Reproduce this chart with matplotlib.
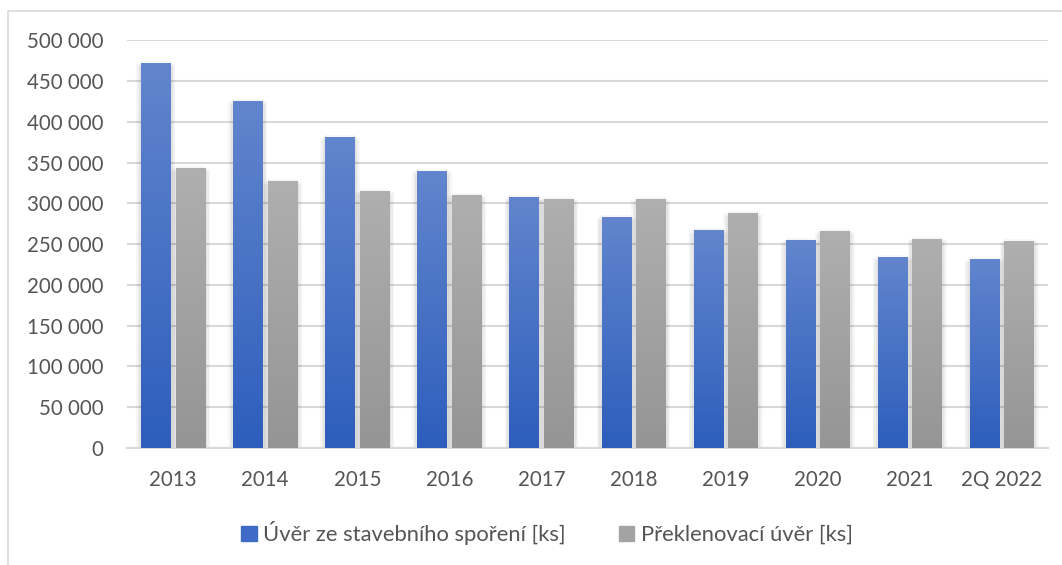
import numpy as np
import matplotlib
matplotlib.use("Agg")
import matplotlib.pyplot as plt
import matplotlib.patheffects as pe
from matplotlib.colors import LinearSegmentedColormap
from matplotlib.patches import Rectangle
from matplotlib.ticker import FuncFormatter

# Počty úvěrů podle let
roky = ["2013", "2014", "2015", "2016", "2017", "2018", "2019", "2020", "2021", "2Q 2022"]
uver_ss = [472400, 425800, 381600, 340000, 308000, 283400, 267500, 255200, 234400, 231900]
uver_prekl = [343600, 327600, 315300, 310400, 305500, 305500, 288300, 266300, 256400, 254000]

nazvy_rad = ["Úvěr ze stavebního spoření [ks]", "Překlenovací úvěr [ks]"]
y_ticks = [0, 50000, 100000, 150000, 200000, 250000, 300000, 350000, 400000, 450000, 500000]


def prechod_sloupcu(ax, bars, barva_nahore, barva_dole):
    # vyplní každý sloupec svislým přechodem barvy, kolem měkký stín
    cmap = LinearSegmentedColormap.from_list("prechod", [barva_dole, barva_nahore])
    grad = np.linspace(0, 1, 256).reshape(-1, 1)
    posuny = [(-1.5, 0), (1.5, 0), (0, 1.5), (0, -1.5), (2.5, -2), (-2.5, -2), (3.5, -1), (-3.5, -1)]
    stin = [pe.SimplePatchShadow(offset=o, shadow_rgbFace="k", alpha=0.035) for o in posuny]
    for b in bars:
        b.set_path_effects(stin + [pe.Normal()])
        x0, w, h = b.get_x(), b.get_width(), b.get_height()
        img = ax.imshow(grad, extent=[x0, x0 + w, 0, h], origin="lower",
                        aspect="auto", cmap=cmap, zorder=3)
        img.set_clip_path(b)


def main():
    plt.rcParams["font.family"] = ["Lato", "DejaVu Sans"]
    fig = plt.figure(figsize=(10.62, 5.65), dpi=100)
    ax = fig.add_axes([0.1196, 0.2071, 0.8672, 0.7216])

    # rámeček grafu
    fig.patches.append(Rectangle((8 / 1062, -0.1), 1.2, 1.1 - 11 / 565,
                                 transform=fig.transFigure, fill=False,
                                 edgecolor="#D9D9D9", lw=1.2))

    x = np.arange(len(roky))
    sirka = 0.32
    mezera = 0.055
    b1 = ax.bar(x - (sirka + mezera) / 2, uver_ss, sirka, color="#3A68C4", zorder=2,
                label=nazvy_rad[0])
    b2 = ax.bar(x + (sirka + mezera) / 2, uver_prekl, sirka, color="#9E9E9E", zorder=2,
                label=nazvy_rad[1])
    prechod_sloupcu(ax, b1, "#6285CD", "#2D5EBC")
    prechod_sloupcu(ax, b2, "#AFAFAF", "#959595")

    ax.set_xlim(-0.5, len(roky) - 0.5)
    ax.set_ylim(0, 500000)
    ax.set_yticks(y_ticks)
    ax.yaxis.set_major_formatter(FuncFormatter(lambda v, p: f"{int(v):,}".replace(",", " ")))
    ax.set_xticks(x)
    ax.set_xticklabels(roky)

    ax.grid(axis="y", color="#D9D9D9", lw=1.5, zorder=0)
    ax.set_axisbelow(True)
    for s in ["top", "right", "left"]:
        ax.spines[s].set_visible(False)
    ax.spines["bottom"].set_color("#D9D9D9")
    ax.spines["bottom"].set_linewidth(1.5)
    ax.tick_params(axis="y", length=0, pad=17, labelsize=14.8, labelcolor="#555555")
    ax.tick_params(axis="x", length=0, pad=16, labelsize=14.8, labelcolor="#555555")

    # legenda pod grafem
    leg = fig.legend(handles=[b1, b2], loc="center", bbox_to_anchor=(547 / 1062, 1 - 533 / 565),
                     ncol=2, frameon=False, fontsize=15.8, handlelength=0.7, handleheight=0.7,
                     handletextpad=0.3, columnspacing=2.4)
    for t in leg.get_texts():
        t.set_color("#555555")
    for h, c in zip(leg.legend_handles, ["#3F6BC6", "#A3A3A3"]):
        h.set_path_effects([])
        h.set_color(c)

    fig.savefig("out.png", dpi=100)


if __name__ == "__main__":
    main()
